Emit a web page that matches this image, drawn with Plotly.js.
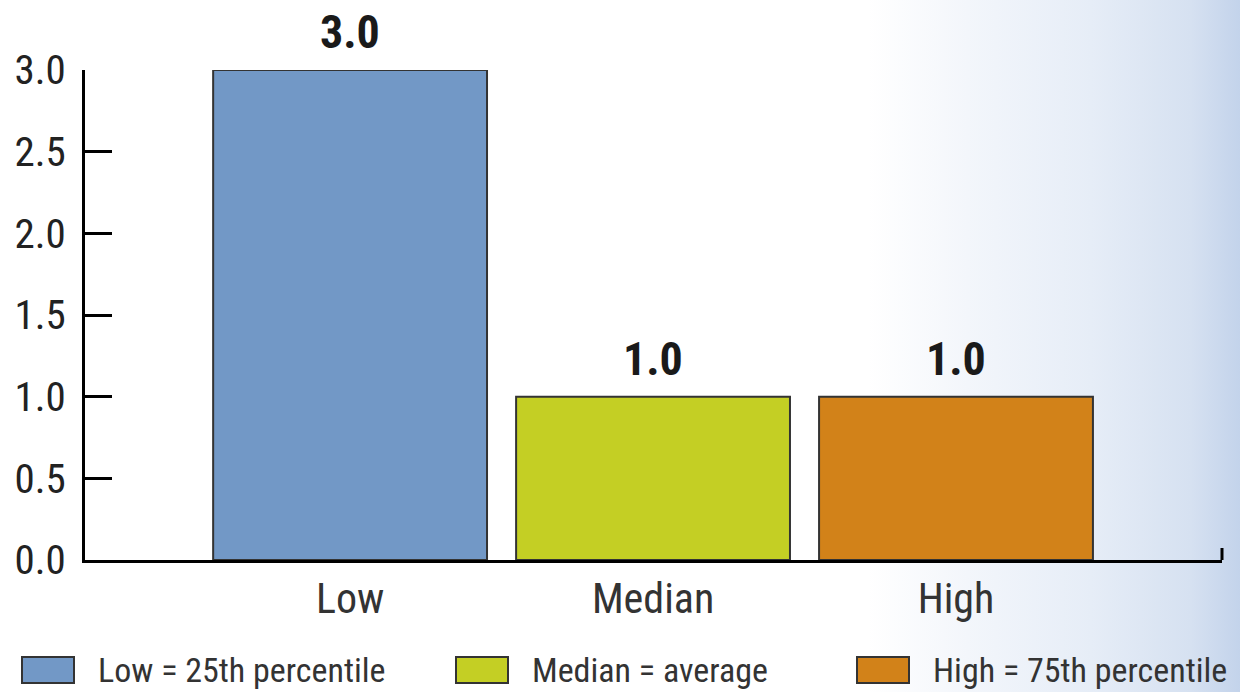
<!DOCTYPE html>
<html>
<head>
<meta charset="utf-8">
<script src="https://cdn.plot.ly/plotly-3.0.1.min.js"></script>
<style>
  html, body { margin: 0; padding: 0; }
  body {
    width: 1240px; height: 692px; overflow: hidden;
    background: linear-gradient(to right, #ffffff 0%, #ffffff 70%, #f3f6fb 78%, #e6edf7 88%, #d6e1f1 96%, #c3d3eb 100%);
  }
  #chart { width: 1240px; height: 692px; }
  #chart svg text { font-stretch: condensed !important; }
</style>
</head>
<body>
<div id="chart"></div>
<script>
// Categories, values and legend text
const categories = ['Low', 'Median', 'High'];
const values = [3.0, 1.0, 1.0];
const legendLabels = ['Low = 25th percentile', 'Median = average', 'High = 75th percentile'];
const barColors = ['#7298c6', '#c4cf24', '#d28219'];
const yTicks = [0, 0.5, 1.0, 1.5, 2.0, 2.5, 3.0];

const FONT = '"Roboto Condensed", "Liberation Sans Narrow", "DejaVu Sans", sans-serif';

const W = 1240, H = 692;
const margin = { l: 85, r: 18, t: 70, b: 132, pad: 0 };
const plotW = W - margin.l - margin.r;
const plotH = H - margin.t - margin.b;
// pixel -> paper coordinate helpers for the hand-drawn legend
const px = x => (x - margin.l) / plotW;
const py = y => (H - margin.b - y) / plotH;

const trace = {
  type: 'bar',
  x: categories,
  y: values,
  width: 0.904,
  marker: { color: barColors, line: { color: '#333333', width: 2 } },
  hoverinfo: 'x+y',
  showlegend: false
};

// value labels above each bar
const annotations = categories.map((c, i) => ({
  x: c, y: values[i], xref: 'x', yref: 'y',
  text: values[i].toFixed(1),
  showarrow: false, yanchor: 'bottom', yshift: 9,
  font: { family: FONT, size: 46, color: '#1a1a1a', weight: 'bold' }
}));

// legend: swatch + text per category
const legendSwatchX = [22, 456, 857];
const shapes = [];
legendSwatchX.forEach((sx, i) => {
  shapes.push({
    type: 'rect', xref: 'paper', yref: 'paper',
    x0: px(sx), x1: px(sx + 52), y0: py(683), y1: py(657),
    fillcolor: barColors[i], line: { color: '#333333', width: 2 }
  });
  annotations.push({
    xref: 'paper', yref: 'paper', x: px(sx + 74), y: py(670),
    xanchor: 'left', yanchor: 'middle', showarrow: false,
    text: legendLabels[i],
    font: { family: FONT, size: 34, color: '#333333' }
  });
});

// small upturned end on the category axis
shapes.push({
  type: 'line', xref: 'paper', yref: 'paper',
  x0: 1, x1: 1, y0: 0, y1: 12 / plotH,
  line: { color: '#000000', width: 3 }
});

const layout = {
  width: W, height: H,
  margin: margin,
  paper_bgcolor: 'rgba(0,0,0,0)',
  plot_bgcolor: 'rgba(0,0,0,0)',
  showlegend: false,
  xaxis: {
    type: 'category',
    range: [-0.875, 2.878],
    showline: true, linecolor: '#000000', linewidth: 3,
    showgrid: false, zeroline: false,
    ticks: '',
    ticklabelstandoff: 0,
    tickfont: { family: FONT, size: 42, color: '#333333' },
    fixedrange: true
  },
  yaxis: {
    range: [0, 3],
    tickvals: yTicks,
    ticktext: yTicks.map(v => v.toFixed(1)),
    showline: true, linecolor: '#000000', linewidth: 3,
    showgrid: false, zeroline: false,
    ticks: 'inside', ticklen: 27, tickwidth: 3, tickcolor: '#000000',
    ticklabelstandoff: 8,
    tickfont: { family: FONT, size: 41, color: '#222222' },
    fixedrange: true
  },
  annotations: annotations,
  shapes: shapes
};

Plotly.newPlot('chart', [trace], layout, { displayModeBar: false, staticPlot: true });
</script>
</body>
</html>
